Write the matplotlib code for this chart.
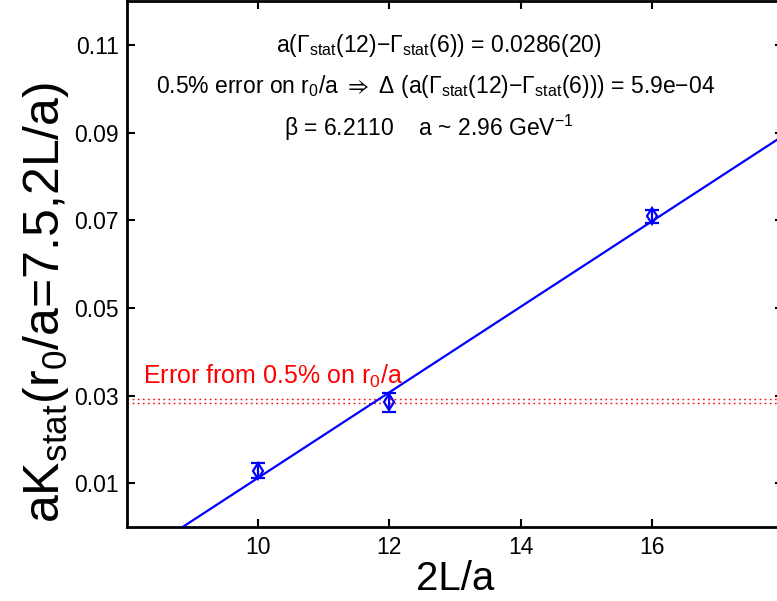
import matplotlib
matplotlib.use("Agg")
import matplotlib.pyplot as plt
import numpy as np

plt.rcParams['font.family'] = ['Liberation Sans', 'DejaVu Sans']
plt.rcParams['mathtext.fontset'] = 'custom'
plt.rcParams['mathtext.rm'] = 'Liberation Sans'
plt.rcParams['mathtext.it'] = 'Liberation Sans'
plt.rcParams['mathtext.bf'] = 'Liberation Sans:bold'
plt.rcParams['mathtext.fallback'] = 'stixsans'

# data
L2 = [10, 12, 16]
K_stat = [0.0129, 0.0285, 0.0710]
K_err = [0.0017, 0.0021, 0.0015]
fit_slope = 0.00975
fit_intercept = -0.0862
band_lower = 0.0283
band_upper = 0.0292
xticks = [10, 12, 14, 16]
yticks = [0.01, 0.03, 0.05, 0.07, 0.09, 0.11]
xlim = (8, 18)
ylim = (0, 0.12)

fig = plt.figure(figsize=(7.77, 6.01), dpi=100)
ax = fig.add_axes([127/777, 73.7/601, 656/777, 526/601])

xs = np.array(xlim, dtype=float)
ax.plot(xs, fit_slope * xs + fit_intercept, color='#0000ff', lw=1.6, zorder=3)
ax.errorbar(L2, K_stat, yerr=K_err, fmt='d', mfc='none', mec='#0000ff', ecolor='#0000ff',
            mew=1.6, ms=8, elinewidth=1.6, capsize=5, capthick=1.6, zorder=4)
for v in (band_lower, band_upper):
    ax.axhline(v, color='#ff0000', ls=(0, (1.2, 2.5)), lw=1.0, zorder=2)

ax.text(8.25, 0.0345, 'Error from 0.5% on r$_0$/a', color='#ff0000', fontsize=18,
        va='center', ha='left')

fs = 16.5
ax.text(12.75, 0.110, r'a($\Gamma_{\rm stat}$(12)$-\Gamma_{\rm stat}$(6)) = 0.0286(20)',
        fontsize=fs, ha='center', va='center')
ax.text(12.7, 0.1006, r'0.5% error on r$_0$/a $\Rightarrow$ Δ (a($\Gamma_{\rm stat}$(12)$-\Gamma_{\rm stat}$(6))) = 5.9e−04',
        fontsize=fs, ha='center', va='center')
ax.text(12.6, 0.0912, r'β = 6.2110    a ~ 2.96 GeV$^{-1}$',
        fontsize=fs, ha='center', va='center')

ax.set_xlim(*xlim)
ax.set_ylim(*ylim)
ax.set_xticks(xticks)
ax.set_yticks(yticks)
ax.set_yticklabels([f'{t:.2f}' for t in yticks])
ax.tick_params(direction='in', length=6, width=1.5, labelsize=16.5, top=True, right=True, pad=6)
for s in ax.spines.values():
    s.set_linewidth(2)

ax.set_xlabel('2L/a', fontsize=29, labelpad=1)
ax.set_ylabel(r'aK$_{\rm stat}$(r$_0$/a=7.5,2L/a)', fontsize=36)
ax.yaxis.set_label_coords(-0.124, 0.427)
ax.yaxis.label.set_verticalalignment('center')

fig.savefig('out.png', dpi=100)
